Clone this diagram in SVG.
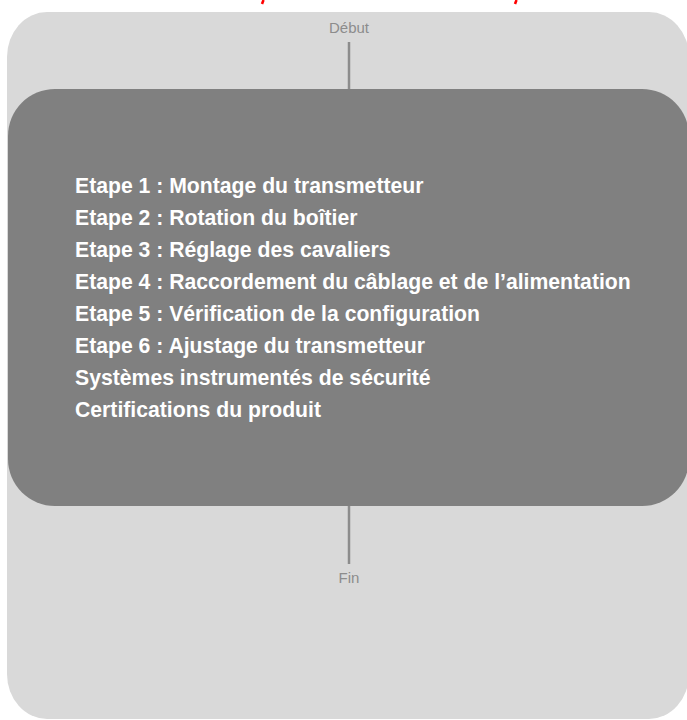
<svg xmlns="http://www.w3.org/2000/svg" width="687" height="720" viewBox="0 0 687 720">
<style>
.term{font-family:"Liberation Sans",Arial,sans-serif;font-size:15px;fill:#8c8c8c;text-anchor:middle}
.step{font-family:"Liberation Sans",Arial,sans-serif;font-size:21.2px;font-weight:bold;fill:#ffffff}
.conn{stroke:#8c8c8c;stroke-width:2.5;fill:none}
.red{stroke:#ff0000;stroke-width:2.5;fill:none}
</style>
<rect width="687" height="720" fill="#ffffff"/>
<g id="top-marks">
<line class="red" x1="263.5" y1="0" x2="262" y2="4"/>
<line class="red" x1="516.5" y1="0" x2="515" y2="4"/>
</g>
<g id="container">
<rect x="7" y="12" width="682" height="707" rx="40" ry="45" fill="#d9d9d9"/>
</g>
<g id="start">
<text class="term" x="349" y="33">Début</text>
</g>
<g id="connectors">
<line class="conn" x1="349" y1="42" x2="349" y2="90"/>
<line class="conn" x1="349" y1="505" x2="349" y2="564"/>
</g>
<g id="steps">
<rect x="8" y="89" width="681" height="417" rx="47" ry="47" fill="#808080"/>
<text class="step" x="75" y="193">Etape 1 : Montage du transmetteur</text>
<text class="step" x="75" y="225">Etape 2 : Rotation du boîtier</text>
<text class="step" x="75" y="257">Etape 3 : Réglage des cavaliers</text>
<text class="step" x="75" y="289">Etape 4 : Raccordement du câblage et de l’alimentation</text>
<text class="step" x="75" y="321">Etape 5 : Vérification de la configuration</text>
<text class="step" x="75" y="353">Etape 6 : Ajustage du transmetteur</text>
<text class="step" x="75" y="385">Systèmes instrumentés de sécurité</text>
<text class="step" x="75" y="417">Certifications du produit</text>
</g>
<g id="end">
<text class="term" x="349" y="583">Fin</text>
</g>
</svg>
